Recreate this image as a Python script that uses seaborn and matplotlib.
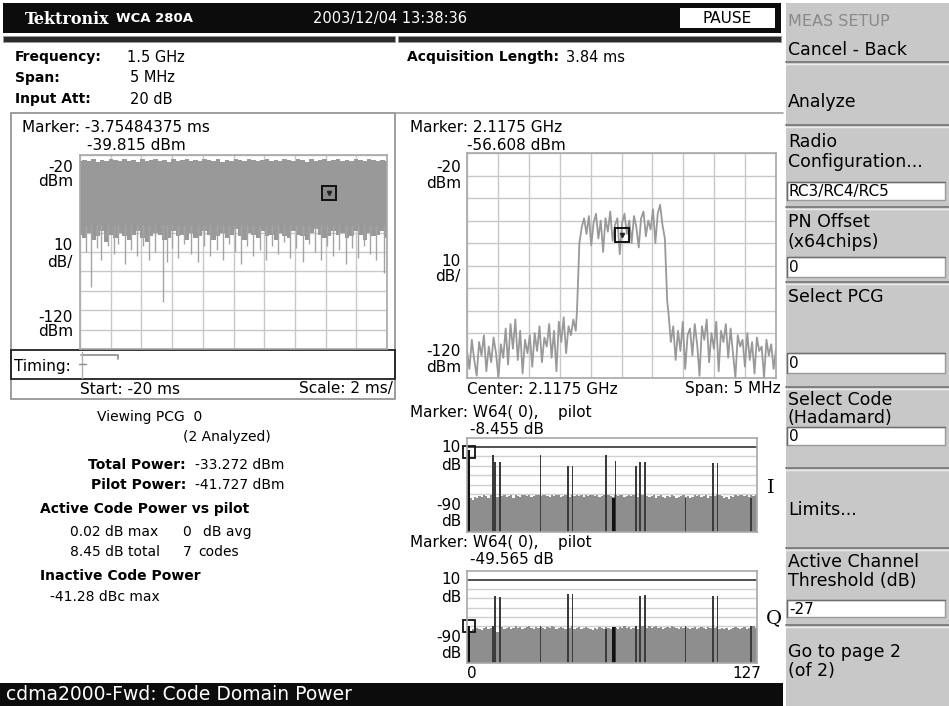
import numpy as np
import matplotlib
matplotlib.use("Agg")
import matplotlib.pyplot as plt
from matplotlib.patches import Rectangle
import seaborn as sns

sns.set_style("white")
plt.rcParams['font.family'] = ['DejaVu Sans']

W, H = 949, 706

# ---------------- values ----------------
# time domain trace (left), dBm, -20 ms .. 0 ms
time_band_top = [-23, -22.5, -23, -22, -23.5, -22.5, -23, -22, -22.5, -23, -22, -23, -22.5, -23.5,
                 -22, -23, -22.5, -22, -23, -22.5, -23.5, -22, -23, -22.5, -22, -23, -22.5, -23,
                 -22, -22.5, -23, -22, -23.5, -22.5, -23, -22, -22.5, -23, -22, -22.5, -23, -22.5,
                 -22, -23, -22.5, -23, -22, -22.5, -23, -22, -22.5, -23.5, -22, -23, -22.5, -22,
                 -23, -22.5, -22, -23, -22.5, -23, -22, -22.5, -23, -22, -22.5, -23, -22.5, -23]
time_band_low = [-61, -63, -60, -64, -62, -59, -65, -61, -63, -60, -62, -64, -61, -59, -63, -65,
                 -62, -60, -61, -64, -63, -59, -62, -61, -64, -60, -63, -62, -59, -61, -64, -62,
                 -60, -63, -61, -58, -62, -64, -60, -61, -63, -59, -62, -61, -64, -60, -62, -63,
                 -59, -61, -62, -64, -60, -58, -61, -63, -62, -59, -61, -60, -63, -62, -59, -61,
                 -64, -60, -62, -61, -59, -63]
time_spike_ms = [-19.6, -19.3, -18.9, -18.6, -18.2, -17.8, -17.5, -17.1, -16.7, -16.3, -15.9, -15.5,
                 -15.1, -14.6, -14.3, -14.0, -13.6, -13.2, -12.8, -12.3, -11.9, -11.5, -11.1, -10.7,
                 -10.3, -9.9, -9.5, -9.1, -8.7, -8.3, -7.9, -7.5, -7.1, -6.7, -6.3, -5.9, -5.5, -5.1,
                 -4.7, -4.3, -3.9, -3.5, -3.1, -2.7, -2.3, -1.9, -1.5, -1.1, -0.7, -0.2]
time_spike_dbm = [-70, -88, -68, -74, -67, -71, -66, -76, -69, -72, -67, -74,
                  -70, -96, -75, -68, -73, -66, -71, -75, -67, -72, -69, -74,
                  -66, -70, -76, -67, -72, -69, -74, -67, -71, -65, -73, -68, -75, -66,
                  -70, -74, -67, -72, -69, -76, -68, -73, -67, -71, -74, -81]
time_marker_ms, time_marker_dbm = -3.75484375, -39.815

# spectrum trace (right), dBm vs offset from 2.1175 GHz in MHz
spec_left_dbm = [-108, -116, -103, -112, -119, -104, -110, -101, -117, -106, -113, -102, -109, -120,
                 -105, -111, -98, -114, -96, -107, -94, -112, -99, -118, -103, -109, -101, -115,
                 -100, -108, -97, -113, -102, -106, -96, -111, -99, -117, -95, -104, -93, -109,
                 -97, -101, -94, -99]
spec_chan_dbm = [-90, -60, -53, -49, -56, -48, -61, -51, -47, -58, -50, -64, -49, -55, -46, -59,
                 -52, -49, -65, -51, -47, -56, -50, -60, -48, -53, -62, -49, -46, -57, -50, -54,
                 -45, -60, -47, -43, -52, -58, -86]
spec_right_dbm = [-91, -104, -97, -112, -99, -108, -95, -116, -101, -98, -110, -96, -105, -119,
                  -97, -103, -94, -113, -100, -107, -95, -117, -99, -104, -96, -111, -98, -109,
                  -120, -101, -106, -103, -115, -100, -112, -104, -118, -102, -108, -106, -120,
                  -103, -110, -105, -116, -107]
spec_marker_mhz, spec_marker_dbm = 0.0, -56.608

# code domain power, dB, codes 0..127
cdp_i_noise = [-51, -50, -52, -49, -50, -48, -49, -47, -48, -50, -47, -48, -46, -49, -47, -48,
               -47, -49, -48, -46, -50, -47, -48, -49, -47, -46, -48, -47, -49, -48, -47, -46,
               -48, -47, -46, -48, -49, -47, -48, -47, -46, -49, -48, -47, -48, -49, -47, -48,
               -47, -48, -46, -49, -47, -48, -47, -46, -48, -47, -49, -48, -47, -48, -46, -48,
               -49, -47, -48, -46, -47, -49, -48, -47, -48, -46, -47, -49, -48, -47, -46, -48,
               -49, -48, -47, -50, -48, -47, -49, -50, -48, -49, -47, -48, -50, -49, -48, -47,
               -49, -48, -50, -49, -47, -48, -46, -49, -48, -47, -50, -48, -47, -48, -46, -47,
               -48, -50, -49, -51, -48, -49, -47, -48, -46, -47, -48, -46, -49, -47, -48, -46]
cdp_q_noise = [-50, -51, -49, -50, -48, -49, -50, -48, -47, -49, -48, -50, -52, -53, -48, -47,
               -49, -48, -47, -49, -48, -46, -48, -47, -49, -48, -47, -46, -48, -49, -47, -48,
               -47, -48, -49, -47, -48, -46, -47, -49, -48, -47, -48, -49, -47, -48, -46, -49,
               -48, -47, -49, -48, -47, -48, -49, -50, -48, -49, -47, -48, -49, -47, -48, -49,
               -47, -48, -49, -47, -48, -46, -48, -47, -49, -48, -47, -49, -48, -46, -47, -48,
               -46, -48, -47, -46, -48, -47, -49, -48, -47, -48, -46, -47, -48, -49, -47, -48,
               -47, -48, -49, -48, -47, -49, -48, -47, -48, -49, -47, -48, -49, -48, -47, -49,
               -48, -49, -48, -50, -49, -48, -47, -48, -49, -48, -47, -49, -48, -47, -46, -48]
active_codes = [0, 11, 12, 14, 32, 44, 46, 61, 64, 65, 74, 76, 78, 96, 108, 110, 125]
cdp_i_active = [6.9, 1.0, -7.6, -7.6, 1.0, -12.0, -12.0, 1.0, -50.0, -6.1, -12.0, -7.6, -7.6,
                -50.0, -8.8, -8.8, -50.0]
cdp_q_active = [-46.0, -45.0, -9.0, -10.4, -45.0, -7.6, -7.6, -49.0, -47.0, -47.0, -46.0, -9.6,
                -8.8, -46.0, -9.6, -9.6, -46.0]

# ---------------- figure in screen pixels ----------------
fig = plt.figure(figsize=(W / 100, H / 100), dpi=100)
bg = fig.add_axes([0, 0, 1, 1])
bg.set_xlim(0, W)
bg.set_ylim(H, 0)
bg.axis('off')


def rect(x0, y0, x1, y1, fc, ec='none', lw=0, z=1):
    bg.add_patch(Rectangle((x0, y0), x1 - x0, y1 - y0, facecolor=fc, edgecolor=ec,
                           linewidth=lw, zorder=z))


def txt(x, y, s, size=10.5, weight='normal', ha='left', color='black', family=None):
    kw = dict(fontsize=size, fontweight=weight, ha=ha, va='center', color=color, zorder=5)
    if family:
        kw['family'] = family
    bg.text(x, y, s, **kw)


def px_axes(x0, y0, x1, y1):
    return fig.add_axes([x0 / W, 1 - y1 / H, (x1 - x0) / W, (y1 - y0) / H])


# header
rect(3, 3, 781, 33, '#0c0c0c')
rect(680, 8, 775, 28, 'white')
txt(727, 18.5, "PAUSE", size=11, ha='center')
txt(25, 19, "Tektronix", size=11.5, weight='bold', color='white', family='DejaVu Serif')
txt(116, 19, "WCA 280A", size=9.5, weight='bold', color='white')
txt(313, 19, "2003/12/04 13:38:36", size=10.5, color='white')
rect(3, 36, 395, 42, '#2b2b2b', ec='#9a9a9a', lw=0.6)
rect(398, 36, 781, 42, '#2b2b2b', ec='#9a9a9a', lw=0.6)

# setup info
bold_size = 10
txt(15, 57, "Frequency:", size=bold_size, weight='bold')
txt(127, 57, "1.5 GHz")
txt(15, 78, "Span:", size=bold_size, weight='bold')
txt(130, 78, "5 MHz")
txt(15, 99, "Input Att:", size=bold_size, weight='bold')
txt(130, 99, "20 dB")
txt(407, 57, "Acquisition Length:", size=bold_size, weight='bold')
txt(566, 57, "3.84 ms")

# left panel frame
rect(11, 113, 395, 399, 'none', ec='#8c8c8c', lw=1.2)
bg.plot([395, 783], [113, 113], color='#a0a0a0', lw=1.2)
rect(11, 350, 395, 379, 'none', ec='#222222', lw=1.3, z=3)
txt(22, 128, "Marker: -3.75484375 ms", size=11)
txt(87, 145, "-39.815 dBm", size=11)
for y, s in [(167, "-20"), (182, "dBm"), (245, "10"), (262, "dB/"), (317, "-120"), (332, "dBm")]:
    txt(73, y, s, size=11, ha='right')
txt(14, 366, "Timing:", size=11)
bg.plot([81, 118, 118], [355, 355, 359], color='#8c8c8c', lw=1.2, zorder=4)
bg.plot([82, 82], [352, 378], color='#b0b0b0', lw=1.0, zorder=4)
bg.plot([79, 86], [364, 364], color='#8c8c8c', lw=1.0, zorder=4)
txt(80, 389, "Start: -20 ms", size=11)
txt(393, 389, "Scale: 2 ms/", size=11, ha='right')

# left text block
txt(97, 417, "Viewing PCG  0", size=10)
txt(183, 437, "(2 Analyzed)", size=10)
txt(186, 465, "Total Power:", size=bold_size, weight='bold', ha='right')
txt(195, 465, "-33.272 dBm", size=10)
txt(186, 485, "Pilot Power:", size=bold_size, weight='bold', ha='right')
txt(195, 485, "-41.727 dBm", size=10)
txt(40, 509, "Active Code Power vs pilot", size=bold_size, weight='bold')
txt(70, 532, "0.02 dB max", size=10)
txt(182, 532, "0", size=10)
txt(203, 532, "dB avg", size=10)
txt(70, 552, "8.45 dB total", size=10)
txt(183, 552, "7", size=10)
txt(198, 552, "codes", size=10)
txt(40, 576, "Inactive Code Power", size=bold_size, weight='bold')
txt(50, 597, "-41.28 dBc max", size=10)

# bottom status bar
rect(0, 683, 783, 706, '#0c0c0c')
txt(6, 695, "cdma2000-Fwd: Code Domain Power", size=13.5, color='white')

# right panel labels
txt(410, 128, "Marker: 2.1175 GHz", size=11)
txt(467, 145, "-56.608 dBm", size=11)
for y, s in [(168, "-20"), (183, "dBm"), (262, "10"), (277, "dB/"), (351, "-120"), (367, "dBm")]:
    txt(461, y, s, size=11, ha='right')
txt(467, 389, "Center: 2.1175 GHz", size=11)
txt(781, 389, "Span: 5 MHz", size=11, ha='right')

txt(410, 412, "Marker: W64( 0),    pilot", size=11)
txt(470, 429, "-8.455 dB", size=11)
for y, s in [(448, "10"), (465, "dB"), (505, "-90"), (521, "dB")]:
    txt(461, y, s, size=11, ha='right')
txt(767, 488, "I", size=14, family='DejaVu Serif')
txt(410, 543, "Marker: W64( 0),    pilot", size=11)
txt(470, 560, "-49.565 dB", size=11)
for y, s in [(580, "10"), (597, "dB"), (637, "-90"), (653, "dB")]:
    txt(461, y, s, size=11, ha='right')
txt(766, 618, "Q", size=14, family='DejaVu Serif')
txt(467, 674, "0", size=11)
txt(761, 674, "127", size=11, ha='right')

# side menu
rect(786, 3, 949, 706, '#c8c8c8')
for y in [62, 125, 207, 282, 387, 468, 548, 625]:
    bg.plot([786, 949], [y, y], color='#808080', lw=1.4, zorder=2)
    bg.plot([786, 949], [y + 2, y + 2], color='#ececec', lw=1.0, zorder=2)
side_font = 12.5
txt(788, 22, "MEAS SETUP", size=11.5, color='#8a8a8a')
txt(788, 50, "Cancel - Back", size=side_font)
txt(788, 102, "Analyze", size=side_font)
txt(788, 142, "Radio", size=side_font)
txt(788, 162, "Configuration...", size=side_font)
txt(788, 222, "PN Offset", size=side_font)
txt(788, 242, "(x64chips)", size=side_font)
txt(788, 297, "Select PCG", size=side_font)
txt(788, 400, "Select Code", size=side_font)
txt(788, 418, "(Hadamard)", size=side_font)
txt(788, 510, "Limits...", size=side_font)
txt(788, 562, "Active Channel", size=side_font)
txt(788, 581, "Threshold (dB)", size=side_font)
txt(788, 652, "Go to page 2", size=side_font)
txt(788, 671, "(of 2)", size=side_font)
for (y0, y1, s) in [(182, 200, "RC3/RC4/RC5"), (257, 277, "0"), (353, 373, "0"),
                    (427, 445, "0"), (600, 617, "-27")]:
    rect(787, y0, 945, y1, 'white', ec='#9a9a9a', lw=1.0, z=3)
    bg.plot([787, 787, 945], [y1, y0, y0], color='#6e6e6e', lw=1.0, zorder=4)
    txt(789, (y0 + y1) / 2 + 0.5, s, size=11)

grid_c = '#c8c8c8'
trace_c = '#999999'


def scope_axes(ax, xlim, ylim):
    ax.set_xlim(*xlim)
    ax.set_ylim(*ylim)
    ax.set_xticks(np.linspace(xlim[0], xlim[1], 11))
    ax.set_yticks(np.linspace(ylim[0], ylim[1], 11))
    ax.grid(True, color=grid_c, lw=1.0)
    ax.set_axisbelow(True)
    ax.tick_params(length=0, labelbottom=False, labelleft=False)
    ax.set_xlabel('')
    ax.set_ylabel('')
    for sp in ax.spines.values():
        sp.set_color('#a8a8a8')
        sp.set_linewidth(1.2)


# time domain plot
ax_t = px_axes(80, 155, 387, 349)
t_band = np.linspace(-20, 0, len(time_band_low))
ax_t.fill_between(t_band, time_band_low, time_band_top, step='mid', color=trace_c, lw=0)
ax_t.vlines(time_spike_ms, time_spike_dbm, -56, color='#a4a4a4', lw=1.0)
ax_t.plot([time_marker_ms], [time_marker_dbm], marker='s', ms=10, mfc='#8a8a8a', mec='#111111',
          mew=1.4)
ax_t.plot([time_marker_ms], [time_marker_dbm], marker='v', ms=3, color='#222222')
scope_axes(ax_t, (-20, 0), (-120, -20))

# spectrum plot
ax_s = px_axes(467, 153, 776, 378)
f_left = np.linspace(-2.5, -0.74, len(spec_left_dbm))
f_chan = np.linspace(-0.72, 0.74, len(spec_chan_dbm))
f_right = np.linspace(0.76, 2.5, len(spec_right_dbm))
freq = np.concatenate([f_left, f_chan, f_right])
level = np.concatenate([spec_left_dbm, spec_chan_dbm, spec_right_dbm])
sns.lineplot(x=freq, y=level, ax=ax_s, color=trace_c, lw=1.3, estimator=None, sort=False)
ax_s.plot([spec_marker_mhz], [spec_marker_dbm], marker='s', ms=10, mfc='none', mec='#111111',
          mew=1.4)
ax_s.plot([spec_marker_mhz], [spec_marker_dbm], marker='v', ms=3, color='#222222')
scope_axes(ax_s, (-2.5, 2.5), (-120, -20))


def cdp_axes(ax, noise, active, marker_db):
    codes = np.arange(len(noise))
    ax.bar(codes, np.array(noise) + 90, bottom=-90, width=1.0, color='#8e8e8e', lw=0)
    heights = np.array(active) + 90
    colors = ['#111111' if c in (0, 64) else '#3c3c3c' for c in active_codes]
    widths = [1.3 if c in (0, 64) else 0.75 for c in active_codes]
    ax.bar(active_codes, heights, bottom=-90, width=widths, color=colors, lw=0)
    ax.set_xlim(-0.5, 127.5)
    ax.set_ylim(-90, 20.6)
    ax.set_yticks([10 - k * 100 / 9 for k in range(1, 9)])
    ax.set_xticks([])
    ax.grid(True, axis='y', color='#d0d0d0', lw=1.0)
    ax.set_axisbelow(True)
    ax.axhline(10, color='#333333', lw=1.2, zorder=0.5)
    ax.tick_params(length=0, labelbottom=False, labelleft=False)
    for sp in ax.spines.values():
        sp.set_color('#a8a8a8')
        sp.set_linewidth(1.2)
    ax.plot([0.6], [marker_db], marker='s', ms=8, mfc='none', mec='#111111', mew=1.3,
            clip_on=False)


ax_i = px_axes(467, 438, 757, 532)
cdp_axes(ax_i, cdp_i_noise, cdp_i_active, 4.0)
ax_q = px_axes(467, 571, 757, 663)
cdp_axes(ax_q, cdp_q_noise, cdp_q_active, -45.7)

fig.savefig("out.png", dpi=100)
